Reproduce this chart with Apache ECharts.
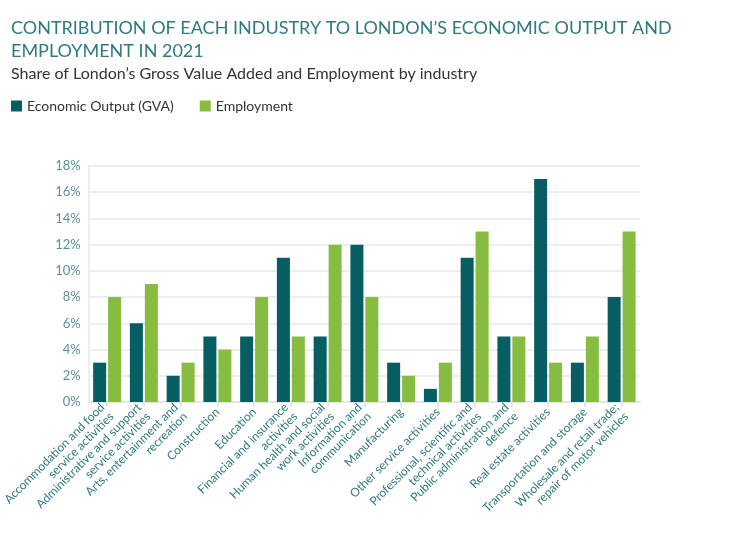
<!DOCTYPE html>
<html><head><meta charset="utf-8">
<script src="https://cdn.jsdelivr.net/npm/echarts@6/dist/echarts.min.js"></script>
<style>html,body{margin:0;background:#fff}#c{width:742px;height:544px}</style>
</head><body><div id="c"></div>
<script>
const industries = [
  'Accommodation and food\nservice activities',
  'Administrative and support\nservice activities',
  'Arts, entertainment and\nrecreation',
  'Construction',
  'Education',
  'Financial and insurance\nactivities',
  'Human health and social\nwork activities',
  'Information and\ncommunication',
  'Manufacturing',
  'Other service activities',
  'Professional, scientific and\ntechnical activities',
  'Public administration and\ndefence',
  'Real estate activities',
  'Transportation and storage',
  'Wholesale and retail trade;\nrepair of motor vehicles'
];
const gva =        [3, 6, 2, 5, 5, 11, 5, 12, 3, 1, 11, 5, 17, 3, 8];
const employment = [8, 9, 3, 4, 8, 5, 12, 8, 2, 3, 13, 5, 3, 5, 13];

const TEAL = '#065e63', GREEN = '#86bc40', TXT = '#2f7a7e';
const FONT = "Lato, 'Open Sans', sans-serif";
const chart = echarts.init(document.getElementById('c'));
chart.setOption({
  animation: false,
  textStyle: { fontFamily: FONT },
  title: [
    { text: 'CONTRIBUTION OF EACH INDUSTRY TO LONDON\u2019S ECONOMIC OUTPUT AND\nEMPLOYMENT IN 2021',
      left: 6, top: 12, textStyle: { color: TXT, fontSize: 18, fontWeight: 'normal', lineHeight: 23, fontFamily: FONT } },
    { text: 'Share of London\u2019s Gross Value Added and Employment by industry',
      left: 6, top: 61, textStyle: { color: '#333', fontSize: 16, fontWeight: 'normal', fontFamily: FONT } }
  ],
  legend: {
    left: 6, top: 94, itemWidth: 11, itemHeight: 11, itemGap: 26, icon: 'rect',
    textStyle: { color: '#333', fontSize: 14, fontFamily: FONT },
    data: ['Economic Output (GVA)', 'Employment']
  },
  grid: { left: 80, right: 102, top: 166, bottom: 142 },
  xAxis: {
    type: 'category', data: industries,
    axisLine: { lineStyle: { color: '#e6e6e6', width: 2 } },
    axisTick: { show: true, alignWithLabel: true, lineStyle: { color: '#e6e6e6', width: 2 } },
    axisLabel: { interval: 0, rotate: 45, color: TXT, fontSize: 12, lineHeight: 13, align: 'right', margin: 8 }
  },
  yAxis: {
    type: 'value', min: 0, max: 18, interval: 2,
    axisLabel: { formatter: '{value}%', color: '#5a9296', fontSize: 13 },
    axisLine: { show: true, lineStyle: { color: '#eeeeee', width: 2 } },
    splitLine: { lineStyle: { color: '#eeeeee', width: 2 } }
  },
  series: [
    { name: 'Economic Output (GVA)', type: 'bar', data: gva, barWidth: 13, barGap: '15%', itemStyle: { color: TEAL } },
    { name: 'Employment', type: 'bar', data: employment, barWidth: 13, itemStyle: { color: GREEN } }
  ]
});
</script></body></html>
